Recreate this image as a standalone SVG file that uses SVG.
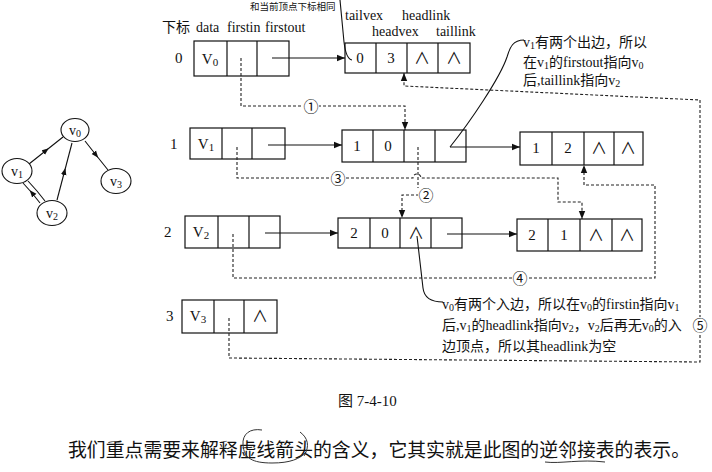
<svg xmlns="http://www.w3.org/2000/svg" width="712" height="472" viewBox="0 0 712 472">
<defs>
<marker id="ah" viewBox="0 0 10 10" refX="10" refY="5" markerWidth="8" markerHeight="8" markerUnits="userSpaceOnUse" orient="auto"><path d="M0,1 L10,5 L0,9 Z" fill="#111"/></marker>
<marker id="am" viewBox="0 0 10 10" refX="5" refY="5" markerWidth="7" markerHeight="7" markerUnits="userSpaceOnUse" orient="auto"><path d="M0,1 L10,5 L0,9 Z" fill="#111"/></marker>
</defs>
<style>
.box{fill:none;stroke:#111;stroke-width:1.2}
.ln{fill:none;stroke:#111;stroke-width:1.1}
.ds{fill:none;stroke:#222;stroke-width:1.1;stroke-dasharray:3 2}
.pen{fill:none;stroke:#333;stroke-width:1}
.t{font-family:"Liberation Serif","Noto Sans CJK SC",serif;fill:#111}
.cjk{font-family:"Noto Sans CJK SC",sans-serif;fill:#111}
.c{text-anchor:middle}
.v{font-size:15px}
.nd{fill:#fff;stroke:#111;stroke-width:1.1}
.cn{font-family:"Noto Sans CJK SC",sans-serif;font-size:15px;text-anchor:middle;fill:#111}
</style>
<rect width="712" height="472" fill="#fff"/>

<!-- small graph -->
<g id="graph">
<g id="edges-graph">
<path class="ln" d="M29,164 L46,150.5 L63,137" marker-mid="url(#am)"/>
<path class="ln" d="M85,141 L96,155 L108,170" marker-mid="url(#am)"/>
<path class="ln" d="M57,200 L64.5,171.5 L72,143" marker-mid="url(#am)"/>
<path class="ln" d="M40,203 L32,193 L23,183" marker-mid="url(#am)"/>
<path class="ln" d="M28,181 L37,191 L45,201"/>
</g>
<g id="gv0"><ellipse class="nd" cx="75" cy="130" rx="14" ry="11.5"/><text class="t c" x="75" y="135" font-size="14">v<tspan font-size="10" dy="2">0</tspan></text></g>
<g id="gv1"><ellipse class="nd" cx="17" cy="171" rx="15" ry="12.5"/><text class="t c" x="17" y="176" font-size="14">v<tspan font-size="10" dy="2">1</tspan></text></g>
<g id="gv2"><ellipse class="nd" cx="52" cy="213" rx="15" ry="12.5"/><text class="t c" x="52" y="218" font-size="14">v<tspan font-size="10" dy="2">2</tspan></text></g>
<g id="gv3"><ellipse class="nd" cx="116" cy="181" rx="15" ry="12.5"/><text class="t c" x="116" y="186" font-size="14">v<tspan font-size="10" dy="2">3</tspan></text></g>
</g>

<!-- headers -->
<text class="cjk" x="250" y="10" font-size="9.5">和当前顶点下标相同</text>
<text class="t" x="162" y="32" font-size="14">下标</text>
<text class="t" x="196" y="32" font-size="14">data</text>
<text class="t" x="227" y="32" font-size="14">firstin</text>
<text class="t" x="265" y="32" font-size="14">firstout</text>
<text class="t" x="345" y="20" font-size="14">tailvex</text>
<text class="t" x="402" y="20" font-size="14">headlink</text>
<text class="t" x="372" y="36" font-size="14">headvex</text>
<text class="t" x="436" y="36" font-size="14">taillink</text>

<!-- vertex table -->
<g id="vx0">
<text class="t" x="175" y="63" font-size="15">0</text>
<rect class="box" x="194" y="41" width="95" height="35"/>
<path class="box" d="M227,41V76M257,41V76"/>
<text class="t c v" x="210" y="64">V<tspan font-size="11" dy="2">0</tspan></text>
</g>
<g id="vx1">
<text class="t" x="170" y="149" font-size="15">1</text>
<rect class="box" x="190" y="128" width="95" height="31"/>
<path class="box" d="M222,128V159M252,128V159"/>
<text class="t c v" x="206" y="149">V<tspan font-size="11" dy="2">1</tspan></text>
</g>
<g id="vx2">
<text class="t" x="164" y="237" font-size="15">2</text>
<rect class="box" x="185" y="216" width="95" height="32"/>
<path class="box" d="M218,216V248M249,216V248"/>
<text class="t c v" x="201" y="237">V<tspan font-size="11" dy="2">2</tspan></text>
</g>
<g id="vx3">
<text class="t" x="166" y="321" font-size="15">3</text>
<rect class="box" x="182" y="300" width="95" height="33"/>
<path class="box" d="M214,300V333M244,300V333"/>
<text class="t c v" x="198" y="321">V<tspan font-size="11" dy="2">3</tspan></text>
<text class="t c" x="260" y="322" font-size="16">∧</text>
</g>

<!-- arc nodes -->
<g id="arc03">
<rect class="box" x="345" y="43" width="125" height="30"/>
<path class="box" d="M376,43V73M407,43V73M438,43V73"/>
<text class="t c v" x="360" y="63">0</text><text class="t c v" x="391" y="63">3</text>
<text class="t c" x="422" y="64" font-size="16">∧</text><text class="t c" x="454" y="64" font-size="16">∧</text>
</g>
<g id="arc10">
<rect class="box" x="342" y="130" width="124" height="32"/>
<path class="box" d="M373,130V162M404,130V162M435,130V162"/>
<text class="t c v" x="357" y="151">1</text><text class="t c v" x="388" y="151">0</text>
</g>
<g id="arc12">
<rect class="box" x="520" y="132" width="123" height="33"/>
<path class="box" d="M552,132V165M584,132V165M614,132V165"/>
<text class="t c v" x="536" y="153">1</text><text class="t c v" x="568" y="153">2</text>
<text class="t c" x="599" y="154" font-size="16">∧</text><text class="t c" x="628" y="154" font-size="16">∧</text>
</g>
<g id="arc20">
<rect class="box" x="338" y="218" width="124" height="30"/>
<path class="box" d="M370,218V248M400,218V248M431,218V248"/>
<text class="t c v" x="354" y="238">2</text><text class="t c v" x="385" y="238">0</text>
<text class="t c" x="416" y="239" font-size="16">∧</text>
</g>
<g id="arc21">
<rect class="box" x="517" y="219" width="125" height="32"/>
<path class="box" d="M548,219V251M580,219V251M612,219V251"/>
<text class="t c v" x="532" y="240">2</text><text class="t c v" x="564" y="240">1</text>
<text class="t c" x="596" y="241" font-size="16">∧</text><text class="t c" x="627" y="241" font-size="16">∧</text>
</g>

<!-- connectors -->
<g id="connectors">
<path class="ln" d="M272,58H345" marker-end="url(#ah)"/>
<path class="ln" d="M268,145H342" marker-end="url(#ah)"/>
<path class="ln" d="M265,233H338" marker-end="url(#ah)"/>
<path class="ln" d="M450,147H520" marker-end="url(#ah)"/>
<path class="ln" d="M447,234H517" marker-end="url(#ah)"/>

<path class="ds" d="M241,58V106H405V130" marker-end="url(#ah)"/>
<path class="ds" d="M418,147V188"/>
<path class="ds" d="M419,195H402V218" marker-end="url(#ah)"/>
<path class="ds" d="M237,147V178H413a4,4 0 0 1 8,0H558V202H582V219" marker-end="url(#ah)"/>
<path class="ds" d="M233,234V278H655V185H584V165" marker-end="url(#ah)"/>
<path class="ds" d="M229,318V358L700,362V100L404,86V73" marker-end="url(#ah)"/>

<circle cx="311" cy="106" r="8" fill="#fff"/><text class="cn" x="311" y="111.5">①</text>
<circle cx="426" cy="195" r="8" fill="#fff"/><text class="cn" x="426" y="200.5">②</text>
<circle cx="338" cy="178" r="8" fill="#fff"/><text class="cn" x="338" y="183.5">③</text>
<circle cx="520" cy="278" r="8" fill="#fff"/><text class="cn" x="520" y="283.5">④</text>
<circle cx="700" cy="325" r="8" fill="#fff"/><text class="cn" x="700" y="330.5">⑤</text>

<path class="ln" d="M340,0L344,42Q346,59 352,60"/>
<path class="ln" d="M524,40C513,40 510,47 507,57C500,78 470,122 450,147"/>
<path class="ln" d="M443,302C430,302 424,297 423,288L417,236"/>
</g>

<!-- annotations -->
<g id="note1" class="t" font-size="14">
<text x="523" y="47">v<tspan font-size="10" dy="2">1</tspan><tspan dy="-2">有两个出边，所以</tspan></text>
<text x="523" y="67">在v<tspan font-size="10" dy="2">1</tspan><tspan dy="-2">的firstout指向v</tspan><tspan font-size="10" dy="2">0</tspan></text>
<text x="523" y="85">后,taillink指向v<tspan font-size="10" dy="2">2</tspan></text>
</g>
<g id="note2" class="t" font-size="14">
<text x="442" y="309">v<tspan font-size="10" dy="2">0</tspan><tspan dy="-2">有两个入边，所以在v</tspan><tspan font-size="10" dy="2">0</tspan><tspan dy="-2">的firstin指向v</tspan><tspan font-size="10" dy="2">1</tspan></text>
<text x="442" y="330">后,v<tspan font-size="10" dy="2">1</tspan><tspan dy="-2">的headlink指向v</tspan><tspan font-size="10" dy="2">2</tspan><tspan dy="-2">，v</tspan><tspan font-size="10" dy="2">2</tspan><tspan dy="-2">后再无v</tspan><tspan font-size="10" dy="2">0</tspan><tspan dy="-2">的入</tspan></text>
<text x="442" y="351">边顶点，所以其headlink为空</text>
</g>

<text class="t" x="338" y="406" font-size="15">图 7-4-10</text>
<text class="cjk" x="68" y="457" font-size="19" textLength="622" lengthAdjust="spacingAndGlyphs">我们重点需要来解释虚线箭头的含义，它其实就是此图的逆邻接表的表示。</text>
<path class="pen" d="M262,430C250,428 242,434 243,445C244,458 252,463 272,463C290,463 300,459 306,452M300,432C308,438 310,446 304,456"/>
<path class="pen" d="M545,462C560,464 580,459 605,462"/>
</svg>
